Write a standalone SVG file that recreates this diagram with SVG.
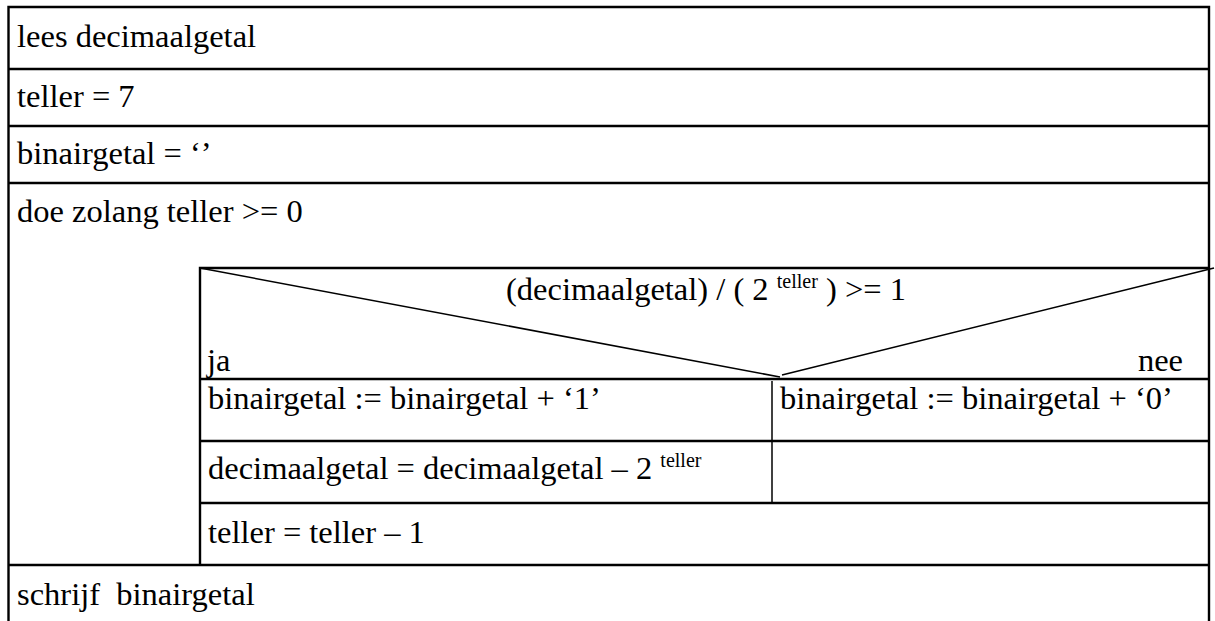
<svg xmlns="http://www.w3.org/2000/svg" width="1215" height="621" viewBox="0 0 1215 621">
  <style>
    .frame { fill: none; stroke: #000; stroke-width: 2.4; }
    .rule { stroke: #000; stroke-width: 2.4; }
    .thin { stroke: #000; stroke-width: 1.5; fill: none; }
    text { font-family: 'Liberation Serif', 'Times New Roman', serif; font-size: 32.5px; fill: #000; }
    .sup { font-size: 20px; }
  </style>
  <rect width="1215" height="621" fill="#fff"/>

  <!-- outer frame of the structogram (open at the bottom) -->
  <g id="frame">
    <path class="frame" d="M8.5 640 V7 H1209 V640"/>
  </g>

  <g id="read-input">
    <text x="17" y="47">lees decimaalgetal</text>
  </g>
  <g id="init-counter">
    <line class="rule" x1="8.5" y1="69" x2="1209" y2="69"/>
    <text x="17" y="107">teller = 7</text>
  </g>
  <g id="init-result">
    <line class="rule" x1="8.5" y1="126" x2="1209" y2="126"/>
    <text x="17" y="164">binairgetal = ‘’</text>
  </g>
  <g id="loop">
    <line class="rule" x1="8.5" y1="183" x2="1209" y2="183"/>
    <text x="17" y="222">doe zolang teller &gt;= 0</text>
  </g>

  <!-- selection block inside the loop body -->
  <g id="condition">
    <path class="frame" d="M200 565 V268 H1209"/>
    <text x="706" y="300" text-anchor="middle">(decimaalgetal) / ( 2 <tspan class="sup" dy="-12">teller</tspan><tspan dy="12"> ) &gt;= 1</tspan></text>
    <text x="207" y="371">ja</text>
    <text x="1183" y="371" text-anchor="end">nee</text>
  </g>

  <g id="connectors">
    <line class="thin" x1="200" y1="268" x2="780" y2="377"/>
    <line class="thin" x1="782" y1="375" x2="1214" y2="268"/>
    <line class="thin" x1="772" y1="381" x2="772" y2="503"/>
  </g>

  <g id="then-append-one">
    <line class="rule" x1="200" y1="379" x2="1209" y2="379"/>
    <text x="208" y="409">binairgetal := binairgetal + ‘1’</text>
  </g>
  <g id="else-append-zero">
    <text x="780" y="409">binairgetal := binairgetal + ‘0’</text>
  </g>
  <g id="then-subtract">
    <line class="rule" x1="200" y1="441" x2="1209" y2="441"/>
    <text x="208" y="479">decimaalgetal = decimaalgetal – 2 <tspan class="sup" dy="-12">teller</tspan></text>
  </g>
  <g id="decrement">
    <line class="rule" x1="200" y1="503" x2="1209" y2="503"/>
    <text x="208" y="543">teller = teller – 1</text>
  </g>
  <g id="write-output">
    <line class="rule" x1="8.5" y1="565" x2="1209" y2="565"/>
    <text x="17" y="605">schrijf&#160; binairgetal</text>
  </g>
</svg>
